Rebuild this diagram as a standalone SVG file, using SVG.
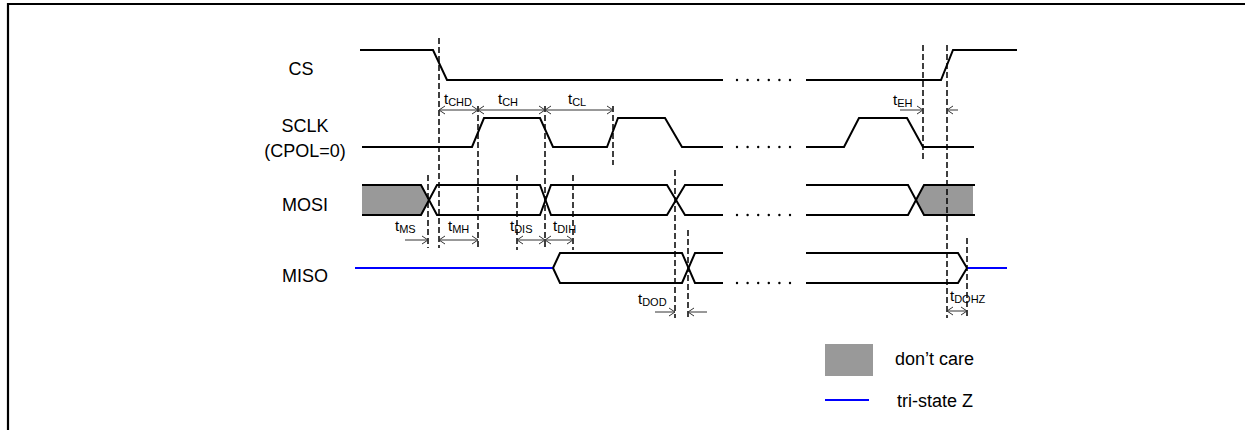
<svg xmlns="http://www.w3.org/2000/svg" width="1245" height="430" viewBox="0 0 1245 430">
<style>
.sig{fill:none;stroke:#000;stroke-width:2;stroke-linejoin:miter}
.tri{fill:none;stroke:#0000ff;stroke-width:2}
.dash{fill:none;stroke:#000;stroke-width:1.5;stroke-dasharray:6,3}
.dim{fill:none;stroke:#333;stroke-width:1}
.dc{fill:#999999;stroke:none}
.lbl{font-family:"Liberation Sans",Arial,sans-serif;font-size:18px;fill:#000}
.t{font-family:"Liberation Sans",Arial,sans-serif;font-size:15px;fill:#000}
.sub{font-size:11px}
.dot{fill:#000}
</style>
<defs>
<marker id="ah" markerWidth="8" markerHeight="10" refX="7" refY="5" orient="auto-start-reverse" markerUnits="userSpaceOnUse">
<path d="M1,1 L7,5 L1,9" fill="none" stroke="#333" stroke-width="1"/>
</marker>
</defs>
<rect width="1245" height="430" fill="#fff"/>
<path d="M8,430 L8,4 L1245,4" fill="none" stroke="#000" stroke-width="2.2"/>

<g id="labels">
<text class="lbl" x="301" y="75" text-anchor="middle">CS</text>
<text class="lbl" x="305" y="132" text-anchor="middle">SCLK</text>
<text class="lbl" x="305" y="157" text-anchor="middle">(CPOL=0)</text>
<text class="lbl" x="305" y="211" text-anchor="middle">MOSI</text>
<text class="lbl" x="305" y="282" text-anchor="middle">MISO</text>
</g>

<g id="cs">
<path class="sig" d="M360,50 L433,50 L447,80 L723,80"/>
<path class="sig" d="M806,80 L941,80 L953,50 L1017,50"/>
<g class="dot"><circle cx="737" cy="80" r="1.2"/><circle cx="747.6" cy="80" r="1.2"/><circle cx="758.2" cy="80" r="1.2"/><circle cx="768.8" cy="80" r="1.2"/><circle cx="779.4" cy="80" r="1.2"/><circle cx="790" cy="80" r="1.2"/></g>
</g>

<g id="sclk">
<path class="sig" d="M362,147 L472,147 L484,118 L540,118 L553,147 L607,147 L618,118 L665,118 L682,147 L723,147"/>
<path class="sig" d="M806,147 L844,147 L859,118 L907,118 L923,147 L974,147"/>
<g class="dot"><circle cx="737" cy="147" r="1.2"/><circle cx="747.6" cy="147" r="1.2"/><circle cx="758.2" cy="147" r="1.2"/><circle cx="768.8" cy="147" r="1.2"/><circle cx="779.4" cy="147" r="1.2"/><circle cx="790" cy="147" r="1.2"/></g>
</g>

<g id="mosi">
<polygon class="dc" points="362,185 421,185 429,200 421,215 362,215"/>
<polygon class="dc" points="916,200 924,185 973,185 973,215 924,215"/>
<path class="sig" d="M362,185 L421,185 L437,215 L540,215 L551,185 L667,185 L685,215 L723,215"/>
<path class="sig" d="M362,215 L421,215 L437,185 L540,185 L551,215 L667,215 L685,185 L723,185"/>
<path class="sig" d="M806,185 L908,185 L924,215 L975,215"/>
<path class="sig" d="M806,215 L908,215 L924,185 L975,185"/>
<g class="dot"><circle cx="737" cy="215" r="1.2"/><circle cx="747.6" cy="215" r="1.2"/><circle cx="758.2" cy="215" r="1.2"/><circle cx="768.8" cy="215" r="1.2"/><circle cx="779.4" cy="215" r="1.2"/><circle cx="790" cy="215" r="1.2"/></g>
</g>

<g id="miso">
<path class="tri" d="M355,268 L553,268"/>
<path class="sig" d="M553,268 L560,253 L682,253 L695,283 L723,283"/>
<path class="sig" d="M553,268 L560,283 L682,283 L695,253 L723,253"/>
<path class="sig" d="M806,253 L958,253 L967,268 L958,283 L806,283"/>
<path class="tri" d="M967,268 L1007,268"/>
<g class="dot"><circle cx="737" cy="283" r="1.2"/><circle cx="747.6" cy="283" r="1.2"/><circle cx="758.2" cy="283" r="1.2"/><circle cx="768.8" cy="283" r="1.2"/><circle cx="779.4" cy="283" r="1.2"/><circle cx="790" cy="283" r="1.2"/></g>
</g>

<g id="connectors">
<path class="dash" d="M439,38 V248 M478,106 V250 M545,106 V250 M613,106 V165 M428,175 V248 M517,175 V250 M573,175 V250 M675,170 V318 M688,230 V318 M923,45 V162 M947,45 V318 M967,238 V318"/>
<path class="dim" d="M439,110 H478" marker-start="url(#ah)" marker-end="url(#ah)"/>
<path class="dim" d="M478,110 H545" marker-start="url(#ah)" marker-end="url(#ah)"/>
<path class="dim" d="M545,110 H613" marker-start="url(#ah)" marker-end="url(#ah)"/>
<path class="dim" d="M900,110 H923" marker-end="url(#ah)"/>
<path class="dim" d="M958,110 H947" marker-end="url(#ah)"/>
<path class="dim" d="M405,240 H428" marker-end="url(#ah)"/>
<path class="dim" d="M439,240 H478" marker-start="url(#ah)" marker-end="url(#ah)"/>
<path class="dim" d="M517,240 H545" marker-start="url(#ah)" marker-end="url(#ah)"/>
<path class="dim" d="M545,240 H573" marker-start="url(#ah)" marker-end="url(#ah)"/>
<path class="dim" d="M655,312 H675" marker-end="url(#ah)"/>
<path class="dim" d="M707,312 H688" marker-end="url(#ah)"/>
<path class="dim" d="M947,311 H967" marker-start="url(#ah)" marker-end="url(#ah)"/>
</g>

<g id="timing-labels">
<text class="t" x="444" y="104">t<tspan class="sub" dy="2">CHD</tspan></text>
<text class="t" x="498" y="104">t<tspan class="sub" dy="2">CH</tspan></text>
<text class="t" x="568" y="104">t<tspan class="sub" dy="2">CL</tspan></text>
<text class="t" x="893" y="105">t<tspan class="sub" dy="2">EH</tspan></text>
<text class="t" x="395" y="231">t<tspan class="sub" dy="2">MS</tspan></text>
<text class="t" x="448" y="231">t<tspan class="sub" dy="2">MH</tspan></text>
<text class="t" x="510" y="231">t<tspan class="sub" dy="2">DIS</tspan></text>
<text class="t" x="553" y="231">t<tspan class="sub" dy="2">DIH</tspan></text>
<text class="t" x="638" y="304">t<tspan class="sub" dy="2">DOD</tspan></text>
<text class="t" x="950" y="301">t<tspan class="sub" dy="2">DOHZ</tspan></text>
</g>

<g id="legend">
<rect class="dc" x="825" y="344" width="48" height="32"/>
<text class="lbl" x="895" y="365">don’t care</text>
<path class="tri" d="M825,400 H869"/>
<text class="lbl" x="897" y="407">tri-state Z</text>
</g>
</svg>
